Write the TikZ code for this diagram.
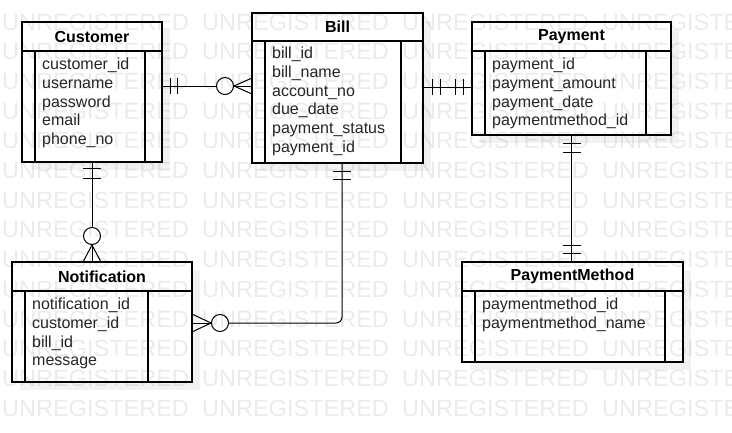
\documentclass[tikz,border=0pt]{standalone}
\usepackage{fontspec}
\setmainfont{Liberation Sans}
\usetikzlibrary{positioning, calc, shadows}

\begin{document}
\begin{tikzpicture}[
    x=1pt, y=-1pt,
    node distance=0pt,
    ent/.style={rectangle, draw, line width=1.3pt, fill=white, outer sep=0pt, inner sep=0pt, minimum height=29pt, font=\fontsize{16}{18.7}\selectfont\bfseries, drop shadow={shadow xshift=8pt, shadow yshift=-8pt, fill=black!5, opacity=1}},
    body/.style={ent, font=\normalfont},
    attr/.style={inner sep=0pt, align=left, text=black!85, font=\fontsize{16}{18.7}\selectfont},
    sep/.style={line width=1.3pt},
    rel/.style={line width=1pt},
    ring/.style={circle, draw, line width=1pt, fill=white, minimum size=17pt, inner sep=0pt},
    wmark/.style={inner sep=0pt, anchor=west, text opacity=0.08, font=\fontsize{23.5}{24}\selectfont},
]
\useasboundingbox (0,0) rectangle (732,432);

% entities
\node[ent, minimum width=140pt] (cust) at (92,36.5) {Customer};
\node[body, minimum width=140pt, minimum height=111pt, below=of cust] (custb) {};
\node[attr, below right=7pt and 20pt of custb.north west] (custa) {customer\_id\\username\\password\\email\\phone\_no};
\draw[sep] ([xshift=13pt]custb.north west) -- ([xshift=13pt]custb.south west);
\draw[sep] ([xshift=-17pt]custb.north east) -- ([xshift=-17pt]custb.south east);

\node[ent, minimum width=171pt, minimum height=28pt] (bill) at (337.5,27) {Bill};
\node[body, minimum width=171pt, minimum height=122pt, below=of bill] (billb) {};
\node[attr, below right=6pt and 20pt of billb.north west] (billa) {bill\_id\\bill\_name\\account\_no\\due\_date\\payment\_status\\payment\_id};
\draw[sep] ([xshift=13pt]billb.north west) -- ([xshift=13pt]billb.south west);
\draw[sep] ([xshift=-22pt]billb.north east) -- ([xshift=-22pt]billb.south east);

\node[ent, minimum width=199pt] (pay) at (571.5,36.5) {Payment};
\node[body, minimum width=199pt, minimum height=84pt, below=of pay] (payb) {};
\node[attr, below right=7pt and 20pt of payb.north west] (paya) {payment\_id\\payment\_amount\\payment\_date\\paymentmethod\_id};
\draw[sep] ([xshift=13pt]payb.north west) -- ([xshift=13pt]payb.south west);
\draw[sep] ([xshift=-25pt]payb.north east) -- ([xshift=-25pt]payb.south east);

\node[ent, minimum width=180pt] (notif) at (102,276.5) {Notification};
\node[body, minimum width=180pt, minimum height=91pt, below=of notif] (notifb) {};
\node[attr, below right=7pt and 20pt of notifb.north west] (notifa) {notification\_id\\customer\_id\\bill\_id\\message};
\draw[sep] ([xshift=13pt]notifb.north west) -- ([xshift=13pt]notifb.south west);
\draw[sep] ([xshift=-44pt]notifb.north east) -- ([xshift=-44pt]notifb.south east);

\node[ent, minimum width=221pt] (pmeth) at (572.5,276.5) {PaymentMethod};
\node[body, minimum width=221pt, minimum height=71pt, below=of pmeth] (pmethb) {};
\node[attr, below right=7pt and 20pt of pmethb.north west] (pmetha) {paymentmethod\_id\\paymentmethod\_name};
\draw[sep] ([xshift=13pt]pmethb.north west) -- ([xshift=13pt]pmethb.south west);
\draw[sep] ([xshift=-18pt]pmethb.north east) -- ([xshift=-18pt]pmethb.south east);

% Customer -- Bill (one to zero-or-many)
\coordinate (c1) at ([yshift=20.5pt]custb.east);
\coordinate (e1) at (c1 -| billb.west);
\node[ring] (r1) at ($(e1)+(-27,0)$) {};
\draw[rel] (c1) -- (r1);
\draw[rel] (r1.east) -- (e1);
\draw[rel] ($(e1)+(0,-8)$) -- (r1.east) -- ($(e1)+(0,8)$);
\draw[rel] ($(c1)+(8,-8)$) -- ++(0,16);
\draw[rel] ($(c1)+(15,-8)$) -- ++(0,16);

% Bill -- Payment (one to one)
\coordinate (c2) at ([yshift=15pt]billb.east);
\coordinate (e2) at (c2 -| payb.west);
\draw[rel] (c2) -- (e2);
\draw[rel] ($(c2)+(9,-8)$) -- ++(0,16);
\draw[rel] ($(c2)+(17,-8)$) -- ++(0,16);
\draw[rel] ($(e2)+(-9,-8)$) -- ++(0,16);
\draw[rel] ($(e2)+(-17,-8)$) -- ++(0,16);

% Customer -- Notification (one to zero-or-many)
\coordinate (c3) at (custb.south);
\coordinate (e3) at (c3 |- notif.north);
\node[ring] (r3) at ($(e3)+(0,-26)$) {};
\draw[rel] (c3) -- (r3);
\draw[rel] (r3.south) -- (e3);
\draw[rel] ($(e3)+(-9,0)$) -- (r3.south) -- ($(e3)+(9,0)$);
\draw[rel] ($(c3)+(-9,6)$) -- ++(18,0);
\draw[rel] ($(c3)+(-9,16)$) -- ++(18,0);

% Bill -- Notification (one to zero-or-many)
\coordinate (c4) at ([xshift=4.5pt]billb.south);
\coordinate (e4) at ([yshift=13.5pt]notifb.east);
\node[ring] (r4) at ($(e4)+(28,0)$) {};
\draw[rel, rounded corners=6pt] (c4) -- (c4 |- e4) -- (r4);
\draw[rel] (r4.west) -- (e4);
\draw[rel] ($(e4)+(0,-9)$) -- (r4.west) -- ($(e4)+(0,9)$);
\draw[rel] ($(c4)+(-9,8)$) -- ++(18,0);
\draw[rel] ($(c4)+(-9,16)$) -- ++(18,0);

% Payment -- PaymentMethod (one to one)
\coordinate (c5) at (payb.south);
\coordinate (e5) at (c5 |- pmeth.north);
\draw[rel] (c5) -- (e5);
\draw[rel] ($(c5)+(-9,8)$) -- ++(18,0);
\draw[rel] ($(c5)+(-9,17)$) -- ++(18,0);
\draw[rel] ($(e5)+(-9,-9)$) -- ++(18,0);
\draw[rel] ($(e5)+(-9,-17)$) -- ++(18,0);

% watermark
\begin{scope}
\clip (0,0) rectangle (732,432);
\foreach \r in {0,...,13}
  \foreach \c in {0,...,3}
    \node[wmark] (wm-\r-\c) at (2+200*\c, 22+29.7*\r) {UNREGISTERED};
\end{scope}
\end{tikzpicture}
\end{document}
